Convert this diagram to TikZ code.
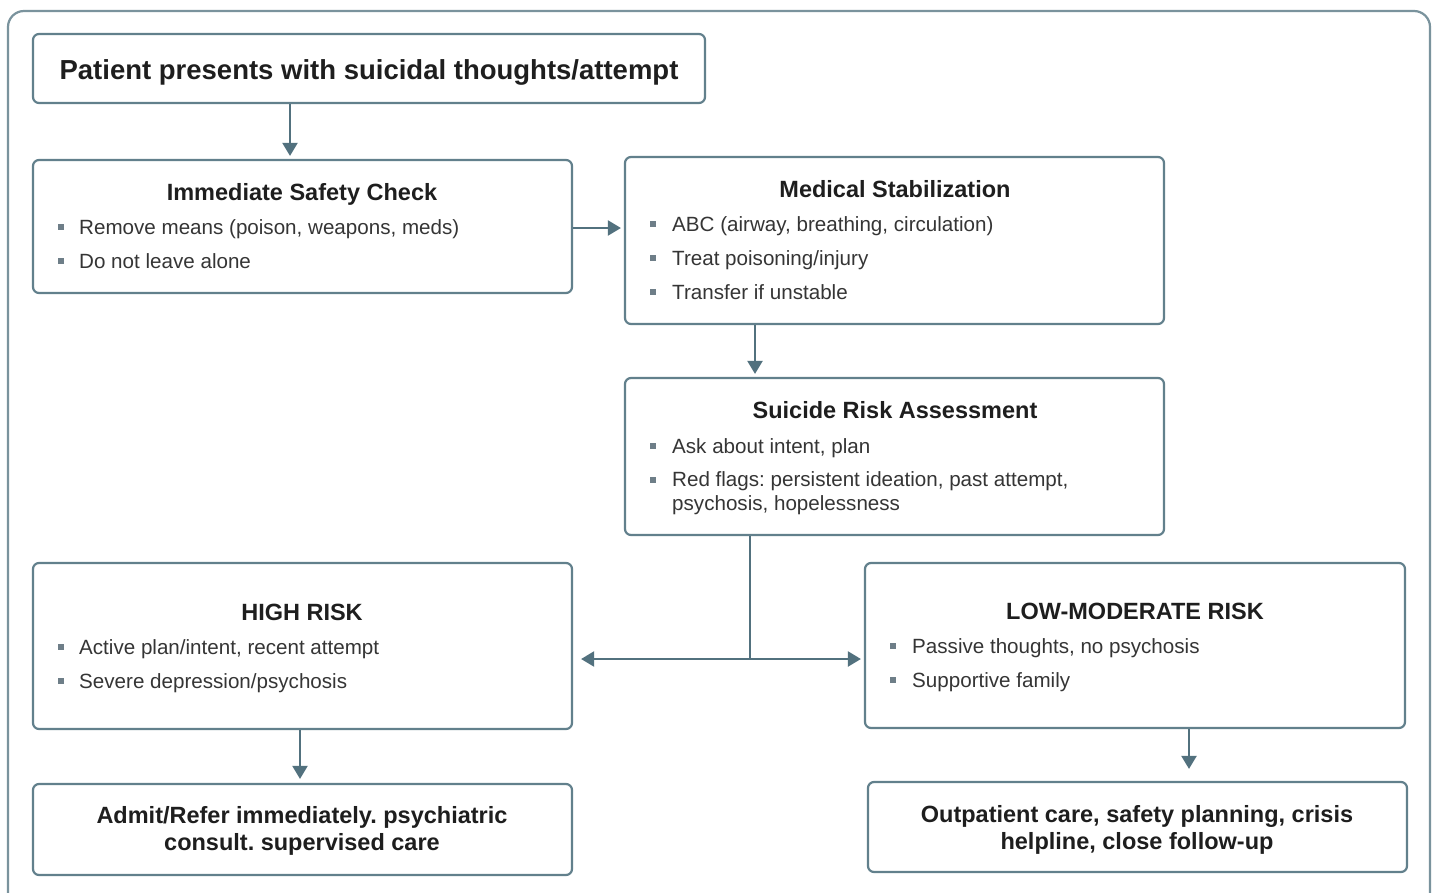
\documentclass[tikz,border=0pt]{standalone}
\usepackage{fontspec}
\setmainfont{Liberation Sans}
\usetikzlibrary{arrows.meta}
\frenchspacing
\definecolor{edge}{HTML}{62808C}
\definecolor{arrowc}{HTML}{52717E}
\definecolor{bul}{HTML}{6E7E88}
\definecolor{txt}{HTML}{1E1E1E}
\tikzset{
  box/.style={draw=edge, line width=2.2pt, rounded corners=6pt, fill=white, inner sep=0pt},
  frame/.style={draw=edge!85, line width=2.2pt, rounded corners=16pt},
  conn/.style={draw=arrowc, line width=2.2pt},
  arr/.style={conn, -{Triangle[length=13pt,width=15pt]}},
  ttl/.style={anchor=base, font=\fontsize{23.5}{28}\selectfont\bfseries, text=txt, inner sep=0pt},
  big/.style={anchor=base, font=\fontsize{23.5}{28}\selectfont\bfseries, text=txt, inner sep=0pt, align=center},
  itm/.style={anchor=base west, font=\fontsize{20.6}{25}\selectfont, text=txt!90, inner sep=0pt, align=left},
  sq/.style={fill=bul, minimum size=6.5pt, inner sep=0pt}
}
\begin{document}
\begin{tikzpicture}[x=1pt,y=-1pt]
\useasboundingbox (0,0) rectangle (1433,892);
\fill[white] (0,0) rectangle (1433,892);
\begin{scope}
\clip (0,0) rectangle (1433,892);
\draw[frame] (8,11) rectangle (1430,930);
\end{scope}

% boxes
\node[box, minimum width=672pt, minimum height=69pt] (b1) at (369,68.5) {};
\node[box, minimum width=539pt, minimum height=133pt] (b2) at (302.5,226.5) {};
\node[box, minimum width=539pt, minimum height=167pt] (b3) at (894.5,240.5) {};
\node[box, minimum width=539pt, minimum height=157pt] (b4) at (894.5,456.5) {};
\node[box, minimum width=539pt, minimum height=166pt] (b5) at (302.5,646) {};
\node[box, minimum width=540pt, minimum height=165pt] (b6) at (1135,645.5) {};
\node[box, minimum width=539pt, minimum height=91pt] (b7) at (302.5,829.5) {};
\node[box, minimum width=539pt, minimum height=90pt] (b8) at (1137.5,827) {};

% texts
\node[big, font=\fontsize{27.5}{32}\selectfont\bfseries] (t1) at (369,79) {Patient presents with suicidal thoughts/attempt};

\node[ttl] (t2) at (302,200) {Immediate Safety Check};
\node[sq] (s21) at (61,227) {}; \node[itm] (i21) at (79,234) {Remove means (poison, weapons, meds)};
\node[sq] (s22) at (61,261) {}; \node[itm] (i22) at (79,268) {Do not leave alone};

\node[ttl] (t3) at (895,197) {Medical Stabilization};
\node[sq] (s31) at (653,224) {}; \node[itm] (i31) at (672,231) {ABC (airway, breathing, circulation)};
\node[sq] (s32) at (653,258) {}; \node[itm] (i32) at (672,265) {Treat poisoning/injury};
\node[sq] (s33) at (653,292) {}; \node[itm] (i33) at (672,299) {Transfer if unstable};

\node[ttl] (t4) at (895,418) {Suicide Risk Assessment};
\node[sq] (s41) at (653,446) {}; \node[itm] (i41) at (672,453) {Ask about intent, plan};
\node[sq] (s42) at (653,480) {}; \node[itm] (i42) at (672,486) {Red flags: persistent ideation, past attempt,};
\node[itm] (i43) at (672,510) {psychosis, hopelessness};

\node[ttl] (t5) at (302,620) {HIGH RISK};
\node[sq] (s51) at (61,647) {}; \node[itm] (i51) at (79,654) {Active plan/intent, recent attempt};
\node[sq] (s52) at (61,681) {}; \node[itm] (i52) at (79,688) {Severe depression/psychosis};

\node[ttl] (t6) at (1135,619) {LOW-MODERATE RISK};
\node[sq] (s61) at (893,646) {}; \node[itm] (i61) at (912,653) {Passive thoughts, no psychosis};
\node[sq] (s62) at (893,680) {}; \node[itm] (i62) at (912,687) {Supportive family};

\node[big] (t7a) at (302,823) {Admit/Refer immediately. psychiatric};
\node[big] (t7b) at (302,850) {consult. supervised care};
\node[big] (t8a) at (1137,822) {Outpatient care, safety planning, crisis};
\node[big] (t8b) at (1137,849) {helpline, close follow-up};

% connectors
\draw[arr] (b1.south -| 290,0) -- ([yshift=3pt]b2.north -| 290,0);
\draw[arr] (b2.east |- 0,228) -- ([xshift=-3pt]b3.west |- 0,228);
\draw[arr] (b3.south -| 755,0) -- ([yshift=3pt]b4.north -| 755,0);
\draw[conn] (b4.south -| 750,0) -- (750,659) coordinate (j);
\draw[arr] (j) -- ([xshift=8pt]b5.east |- j);
\draw[arr] (j) -- ([xshift=-3pt]b6.west |- j);
\draw[arr] (b5.south -| 300,0) -- ([yshift=4pt]b7.north -| 300,0);
\draw[arr] (b6.south -| 1189,0) -- ([yshift=12pt]b8.north -| 1189,0);
\end{tikzpicture}
\end{document}
